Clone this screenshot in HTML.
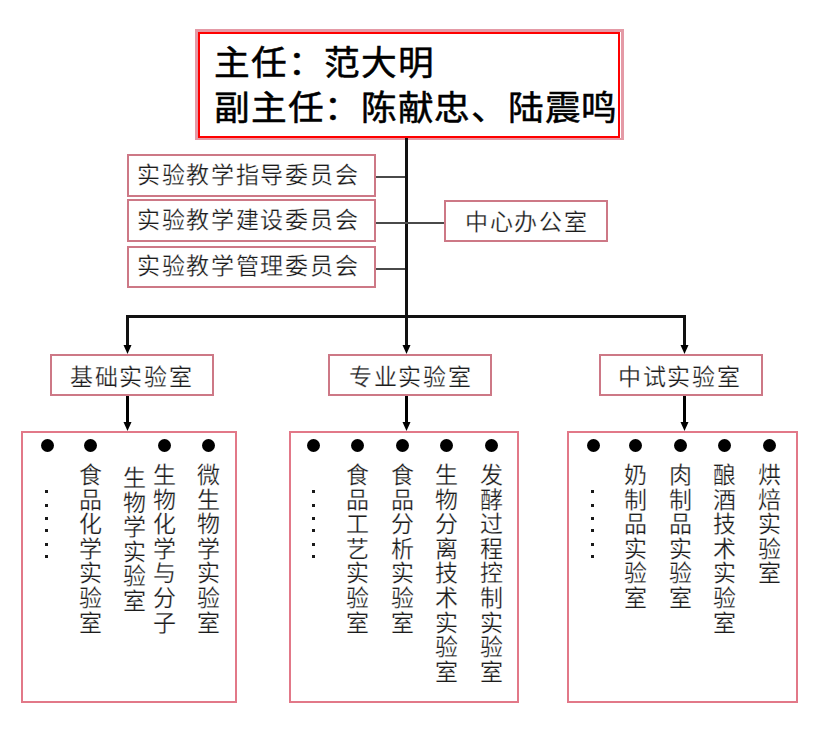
<!DOCTYPE html>
<html lang="zh-CN"><head><meta charset="utf-8">
<style>
html,body{margin:0;padding:0;background:#fff;}
body{width:828px;height:729px;position:relative;overflow:hidden;font-family:"Liberation Sans",sans-serif;color:#222;}
.a{position:absolute;box-sizing:border-box;}
.box{position:absolute;box-sizing:border-box;border:2px solid #cd7886;background:#fff;}
.t{position:absolute;white-space:nowrap;font-size:23px;line-height:23px;letter-spacing:1.7px;font-weight:400;color:#1c1c1c;-webkit-text-stroke:0.25px #fff;}
.ln{position:absolute;background:#111;}
.cn{position:absolute;background:#4a4a4a;}
.dot{position:absolute;width:13px;height:13px;border-radius:50%;background:#000;}
.col{position:absolute;width:24px;font-size:23px;line-height:24.6px;word-break:break-all;text-align:center;color:#1c1c1c;-webkit-text-stroke:0.25px #fff;}
.ell{position:absolute;width:3px;height:3px;background:#1a1a1a;}
</style></head><body>

<!-- top box -->
<div class="a" style="left:195px;top:29px;width:429px;height:111px;border:3px solid #e49aa6;border-bottom-width:2px;"></div>
<div class="a" style="left:198px;top:32px;width:422px;height:106px;border:2px solid #ff0000;background:#fff;"></div>
<div class="t" style="left:214px;top:46px;font-size:34px;line-height:34px;font-weight:500;letter-spacing:1px;transform:scaleX(1.05);transform-origin:0 0;color:#000;-webkit-text-stroke:0.5px #000;">主任：范大明</div>
<div class="t" style="left:214px;top:91px;font-size:34px;line-height:34px;font-weight:500;letter-spacing:1px;transform:scaleX(1.05);transform-origin:0 0;color:#000;-webkit-text-stroke:0.5px #000;">副主任：陈献忠、陆震鸣</div>

<!-- main vertical -->
<div class="ln" style="left:405px;top:138px;width:3px;height:209px;"></div>

<!-- committees -->
<div class="box" style="left:127px;top:154px;width:249px;height:43px;"></div>
<div class="box" style="left:127px;top:199px;width:249px;height:43px;"></div>
<div class="box" style="left:127px;top:246px;width:249px;height:42px;"></div>
<div class="t" style="left:137px;top:164px;">实验教学指导委员会</div>
<div class="t" style="left:137px;top:209px;">实验教学建设委员会</div>
<div class="t" style="left:137px;top:255px;">实验教学管理委员会</div>
<div class="cn" style="left:376px;top:176px;width:29px;height:2px;"></div>
<div class="cn" style="left:376px;top:222px;width:68px;height:2px;"></div>
<div class="cn" style="left:376px;top:268px;width:29px;height:2px;"></div>

<!-- center office -->
<div class="box" style="left:444px;top:200px;width:164px;height:42px;"></div>
<div class="t" style="left:465px;top:211px;">中心办公室</div>

<!-- horizontal bar -->
<div class="ln" style="left:126px;top:315px;width:560px;height:3px;"></div>
<div class="ln" style="left:126px;top:315px;width:3px;height:32px;"></div>
<div class="ln" style="left:683px;top:315px;width:3px;height:32px;"></div>

<!-- arrows -->
<svg class="a" style="left:0;top:0;" width="828" height="729">
<g fill="#000">
<polygon points="123.5,345 131.5,345 127.5,354"/>
<polygon points="402.5,345 410.5,345 406.5,354"/>
<polygon points="680.5,345 688.5,345 684.5,354"/>
<polygon points="123.5,422 131.5,422 127.5,431"/>
<polygon points="402.5,422 410.5,422 406.5,431"/>
<polygon points="680.5,422 688.5,422 684.5,431"/>
</g>
<g stroke="#000" stroke-width="3">
<line x1="127.5" y1="396" x2="127.5" y2="424"/>
<line x1="406.5" y1="396" x2="406.5" y2="424"/>
<line x1="684.5" y1="396" x2="684.5" y2="424"/>
</g>
</svg>

<!-- lab boxes -->
<div class="box" style="left:50px;top:354px;width:164px;height:42px;"></div>
<div class="box" style="left:328px;top:354px;width:164px;height:42px;"></div>
<div class="box" style="left:599px;top:354px;width:164px;height:42px;"></div>
<div class="t" style="left:70px;top:366px;">基础实验室</div>
<div class="t" style="left:349px;top:366px;">专业实验室</div>
<div class="t" style="left:618px;top:366px;">中试实验室</div>

<!-- bottom boxes -->
<div class="box" style="left:21px;top:431px;width:216px;height:272px;border-color:#e27888;background:transparent;"></div>
<div class="box" style="left:289px;top:431px;width:230px;height:272px;border-color:#e27888;background:transparent;"></div>
<div class="box" style="left:567px;top:431px;width:231px;height:272px;border-color:#e27888;background:transparent;"></div>

<!-- bottom contents -->
<div class="dot" style="left:40.5px;top:439px;"></div>
<div class="dot" style="left:83.5px;top:439px;"></div>
<div class="dot" style="left:157.8px;top:439px;"></div>
<div class="dot" style="left:202.3px;top:439px;"></div>
<div class="col" style="left:78px;top:463px;">食品化学实验室</div>
<div class="col" style="left:122.69999999999999px;top:466px;">生物学实验室</div>
<div class="col" style="left:152.3px;top:463px;">生物化学与分子</div>
<div class="col" style="left:196.8px;top:463px;">微生物学实验室</div>
<div class="dot" style="left:306.9px;top:439px;"></div>
<div class="dot" style="left:351.1px;top:439px;"></div>
<div class="dot" style="left:395.7px;top:439px;"></div>
<div class="dot" style="left:439.9px;top:439px;"></div>
<div class="dot" style="left:484.5px;top:439px;"></div>
<div class="col" style="left:345.6px;top:463px;">食品工艺实验室</div>
<div class="col" style="left:390.2px;top:463px;">食品分析实验室</div>
<div class="col" style="left:434.4px;top:463px;">生物分离技术实验室</div>
<div class="col" style="left:479px;top:463px;">发酵过程控制实验室</div>
<div class="dot" style="left:586.5px;top:439px;"></div>
<div class="dot" style="left:629.3px;top:439px;"></div>
<div class="dot" style="left:673.9px;top:439px;"></div>
<div class="dot" style="left:717.9px;top:439px;"></div>
<div class="dot" style="left:762.5px;top:439px;"></div>
<div class="col" style="left:623.8px;top:463px;">奶制品实验室</div>
<div class="col" style="left:668.4px;top:463px;">肉制品实验室</div>
<div class="col" style="left:712.4px;top:463px;">酿酒技术实验室</div>
<div class="col" style="left:757px;top:463px;">烘焙实验室</div>
<div class="ell" style="left:45px;top:490px;"></div>
<div class="ell" style="left:45px;top:504px;"></div>
<div class="ell" style="left:45px;top:517px;"></div>
<div class="ell" style="left:45px;top:529px;"></div>
<div class="ell" style="left:45px;top:543px;"></div>
<div class="ell" style="left:45px;top:555px;"></div>
<div class="ell" style="left:312px;top:490px;"></div>
<div class="ell" style="left:312px;top:504px;"></div>
<div class="ell" style="left:312px;top:517px;"></div>
<div class="ell" style="left:312px;top:529px;"></div>
<div class="ell" style="left:312px;top:543px;"></div>
<div class="ell" style="left:312px;top:555px;"></div>
<div class="ell" style="left:591px;top:490px;"></div>
<div class="ell" style="left:591px;top:504px;"></div>
<div class="ell" style="left:591px;top:517px;"></div>
<div class="ell" style="left:591px;top:529px;"></div>
<div class="ell" style="left:591px;top:543px;"></div>
<div class="ell" style="left:591px;top:555px;"></div>
</body></html>
